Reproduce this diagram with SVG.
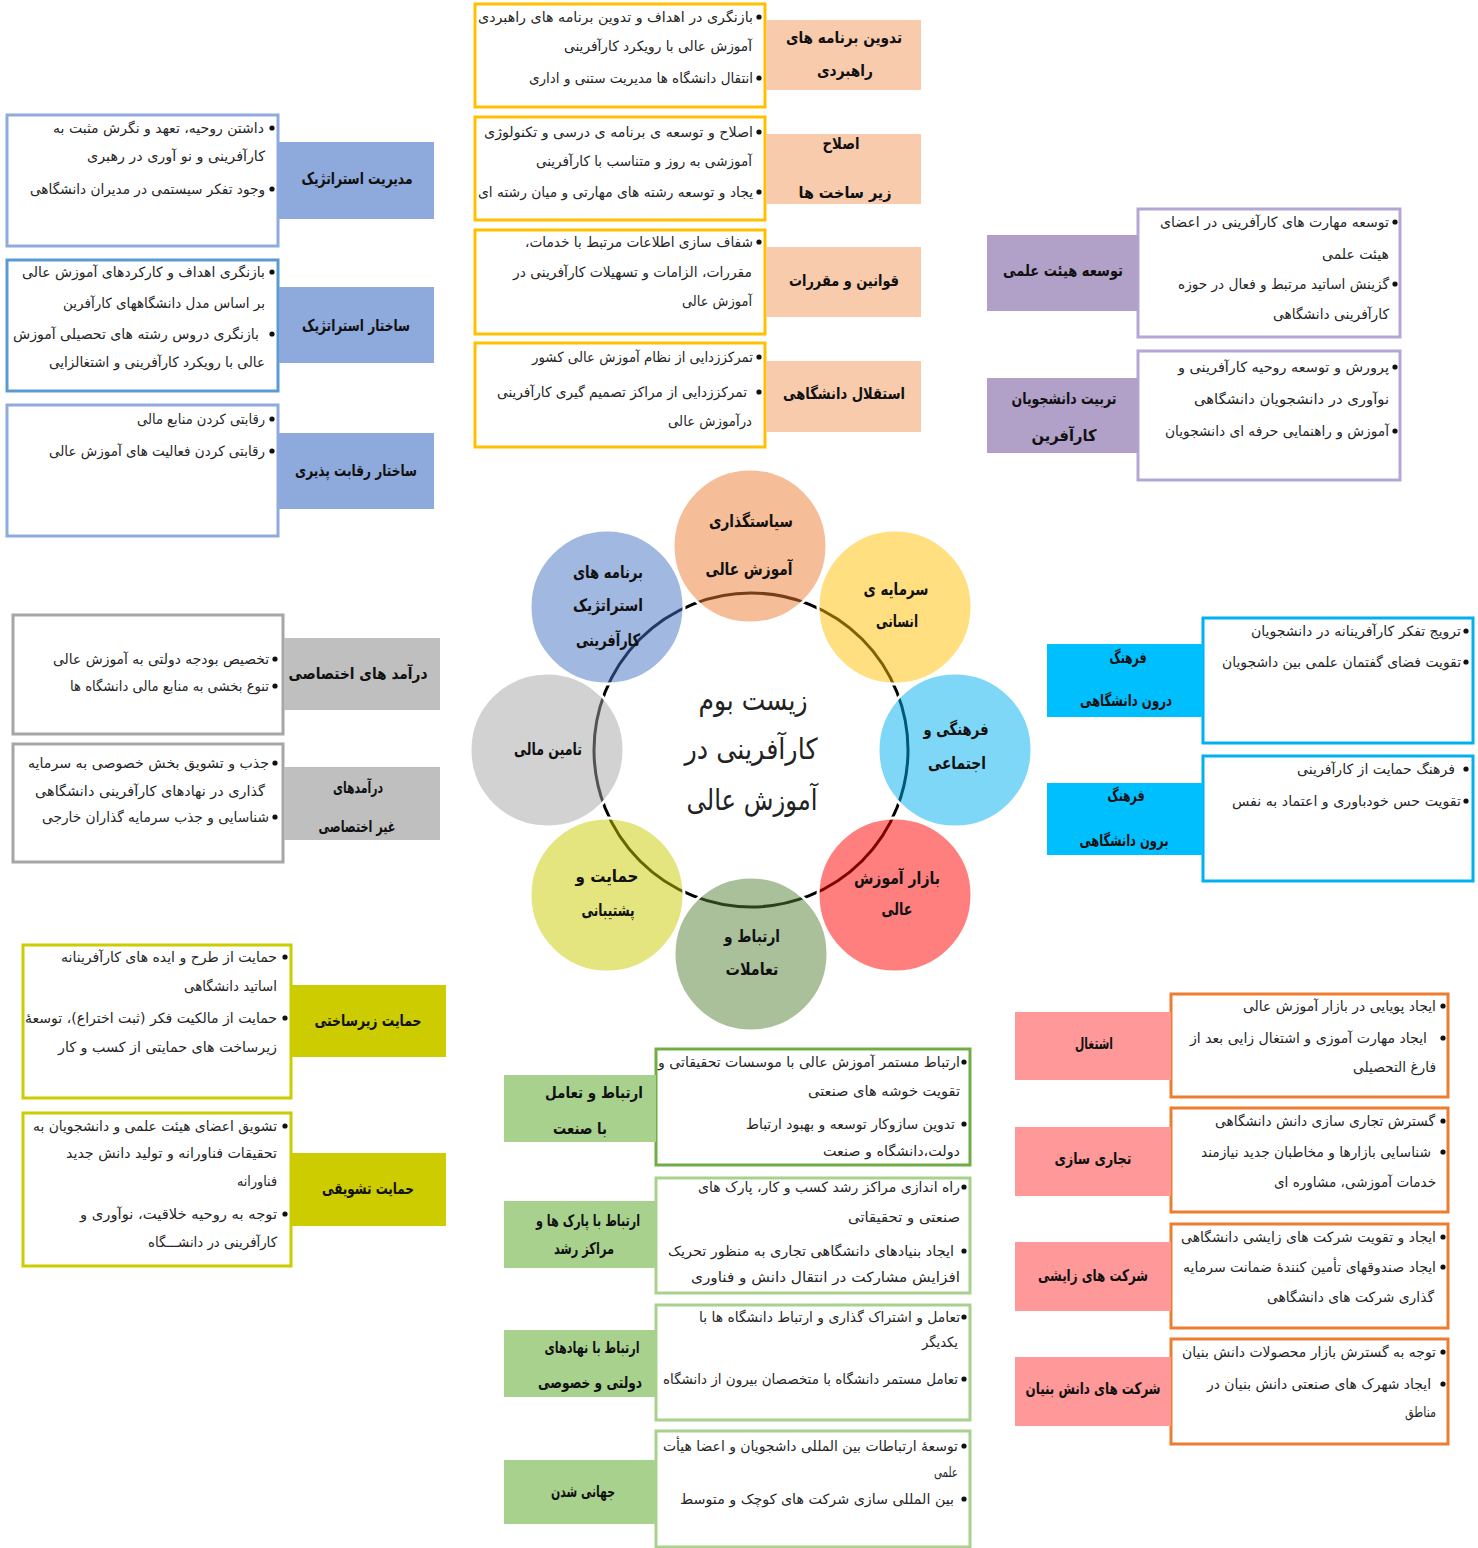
<svg xmlns="http://www.w3.org/2000/svg" width="1478" height="1548" viewBox="0 0 1478 1548">
<style>
.t{font-family:"DejaVu Sans",sans-serif;font-size:14px;fill:#262626;direction:rtl;text-anchor:middle}
.l{font-family:"DejaVu Sans",sans-serif;font-size:16px;font-weight:bold;fill:#111;direction:rtl;text-anchor:middle}
.c{font-family:"DejaVu Sans",sans-serif;font-size:17px;font-weight:bold;fill:#111;direction:rtl;text-anchor:middle}
.m{font-family:"DejaVu Sans",sans-serif;font-size:29px;fill:#222;direction:rtl;text-anchor:middle}
.bu{fill:#111}
.bx{fill:#fff;stroke-width:3}
.yb{stroke:#FFC000}.pl{fill:#F8CBAD}
.bb{stroke:#8FAADC}.bb2{stroke:#5B9BD5}.bl{fill:#8EA9DB}
.ub{stroke:#B4A7D6}.ul{fill:#B1A0C7}
.gb{stroke:#A6A6A6}.gl{fill:#BFBFBF}
.cb{stroke:#00B0F0}.cl{fill:#00BFFF}
.ob{stroke:#CCCC00}.ol{fill:#CCCC00}
.eb{stroke:#70AD47}.eb2{stroke:#A9D18E}.el{fill:#A9D18E}
.rb{stroke:#ED7D31}.rl{fill:#FF9999}
.ci{fill-opacity:0.5;stroke:#fff;stroke-width:3}
</style>
<rect width="1478" height="1548" fill="#fff"/>

<g id="connectors">
<circle cx="751" cy="750" r="157" fill="none" stroke="#000" stroke-width="3"/>
</g>

<g id="circle-policy"><circle class="ci" cx="750" cy="546" r="77" fill="#ED7D31"/>
<text class="c" x="751" y="527" textLength="84" lengthAdjust="spacingAndGlyphs">سیاستگذاری</text>
<text class="c" x="749" y="575" textLength="87" lengthAdjust="spacingAndGlyphs">آموزش عالی</text></g>
<g id="circle-human"><circle class="ci" cx="895" cy="607" r="77" fill="#FFC000"/>
<text class="c" x="896" y="595" textLength="65" lengthAdjust="spacingAndGlyphs">سرمایه ی</text>
<text class="c" x="897" y="627" textLength="42" lengthAdjust="spacingAndGlyphs">انسانی</text></g>
<g id="circle-culture"><circle class="ci" cx="955" cy="750" r="77" fill="#00B0F0"/>
<text class="c" x="956" y="735" textLength="65" lengthAdjust="spacingAndGlyphs">فرهنگی و</text>
<text class="c" x="957" y="769" textLength="58" lengthAdjust="spacingAndGlyphs">اجتماعی</text></g>
<g id="circle-market"><circle class="ci" cx="895" cy="895" r="77" fill="#FF0000"/>
<text class="c" x="897" y="884" textLength="86" lengthAdjust="spacingAndGlyphs">بازار آموزش</text>
<text class="c" x="897" y="915" textLength="31" lengthAdjust="spacingAndGlyphs">عالی</text></g>
<g id="circle-relations"><circle class="ci" cx="751" cy="954" r="77" fill="#548235"/>
<text class="c" x="752" y="942" textLength="56" lengthAdjust="spacingAndGlyphs">ارتباط و</text>
<text class="c" x="752" y="975" textLength="53" lengthAdjust="spacingAndGlyphs">تعاملات</text></g>
<g id="circle-support"><circle class="ci" cx="607" cy="895" r="77" fill="#CCCC00"/>
<text class="c" x="607" y="882" textLength="63" lengthAdjust="spacingAndGlyphs">حمایت و</text>
<text class="c" x="608" y="916" textLength="53" lengthAdjust="spacingAndGlyphs">پشتیبانی</text></g>
<g id="circle-finance"><circle class="ci" cx="547" cy="750" r="77" fill="#A6A6A6"/>
<text class="c" x="548" y="755" textLength="68" lengthAdjust="spacingAndGlyphs">تامین مالی</text></g>
<g id="circle-strategy"><circle class="ci" cx="607" cy="607" r="77" fill="#4472C4"/>
<text class="c" x="608" y="578" textLength="70" lengthAdjust="spacingAndGlyphs">برنامه های</text>
<text class="c" x="608" y="611" textLength="70" lengthAdjust="spacingAndGlyphs">استراتژیک</text>
<text class="c" x="608" y="646" textLength="64" lengthAdjust="spacingAndGlyphs">کارآفرینی</text></g>

<g id="center-title">
<text class="m" x="753" y="710" textLength="109" lengthAdjust="spacingAndGlyphs">زیست بوم</text>
<text class="m" x="751" y="759" textLength="133" lengthAdjust="spacingAndGlyphs">کارآفرینی در</text>
<text class="m" x="752" y="810" textLength="131" lengthAdjust="spacingAndGlyphs">آموزش عالی</text>
</g>

<g id="node-strategic-planning">
<rect class="bx yb" x="475" y="4" width="290" height="103"/>
<rect class="pl" x="766" y="20" width="155" height="70"/>
<text class="l" x="844" y="43" textLength="116" lengthAdjust="spacingAndGlyphs">تدوین برنامه های</text>
<text class="l" x="845" y="76" textLength="56" lengthAdjust="spacingAndGlyphs">راهبردی</text>
<circle class="bu" cx="759" cy="17" r="2.6"/><circle class="bu" cx="759" cy="78" r="2.6"/>
<text class="t" x="615.5" y="22" textLength="275" lengthAdjust="spacingAndGlyphs">بازنگری در اهداف و تدوین برنامه های راهبردی</text>
<text class="t" x="658" y="51" textLength="188" lengthAdjust="spacingAndGlyphs">آموزش عالی با رویکرد کارآفرینی</text>
<text class="t" x="641" y="83" textLength="224" lengthAdjust="spacingAndGlyphs">انتقال دانشگاه ها مدیریت ستنی و اداری</text>
</g>
<g id="node-infrastructure-reform">
<rect class="bx yb" x="475" y="117" width="290" height="103"/>
<rect class="pl" x="766" y="134" width="155" height="70"/>
<text class="l" x="841" y="149" textLength="37" lengthAdjust="spacingAndGlyphs">اصلاح</text>
<text class="l" x="845" y="198" textLength="93" lengthAdjust="spacingAndGlyphs">زیر ساخت ها</text>
<circle class="bu" cx="759" cy="132" r="2.6"/><circle class="bu" cx="759" cy="192" r="2.6"/>
<text class="t" x="618.5" y="137" textLength="269" lengthAdjust="spacingAndGlyphs">اصلاح و توسعه ی برنامه ی درسی و تکنولوژی</text>
<text class="t" x="644" y="166" textLength="216" lengthAdjust="spacingAndGlyphs">آموزشی به روز و متناسب با کارآفرینی</text>
<text class="t" x="615.5" y="197" textLength="275" lengthAdjust="spacingAndGlyphs">یجاد و توسعه رشته های مهارتی و میان رشته ای</text>
</g>
<g id="node-laws">
<rect class="bx yb" x="475" y="230" width="290" height="104"/>
<rect class="pl" x="766" y="247" width="155" height="70"/>
<text class="l" x="844" y="286" textLength="110" lengthAdjust="spacingAndGlyphs">قوانین و مقررات</text>
<circle class="bu" cx="759" cy="242" r="2.6"/>
<text class="t" x="639" y="247" textLength="228" lengthAdjust="spacingAndGlyphs">شفاف سازی اطلاعات مرتبط با خدمات،</text>
<text class="t" x="632.5" y="277" textLength="239" lengthAdjust="spacingAndGlyphs">مقررات، الزامات و تسهیلات کارآفرینی در</text>
<text class="t" x="717" y="306" textLength="70" lengthAdjust="spacingAndGlyphs">آموزش عالی</text>
</g>
<g id="node-autonomy">
<rect class="bx yb" x="475" y="343" width="290" height="104"/>
<rect class="pl" x="766" y="361" width="155" height="71"/>
<text class="l" x="844" y="399" textLength="122" lengthAdjust="spacingAndGlyphs">استقلال دانشگاهی</text>
<circle class="bu" cx="759" cy="357" r="2.6"/><circle class="bu" cx="759" cy="392" r="2.6"/>
<text class="t" x="642.5" y="362" textLength="221" lengthAdjust="spacingAndGlyphs">تمرکززدایی از نظام آموزش عالی کشور</text>
<text class="t" x="622" y="397" textLength="250" lengthAdjust="spacingAndGlyphs">تمرکززدایی از مراکز تصمیم گیری کارآفرینی</text>
<text class="t" x="710" y="426" textLength="84" lengthAdjust="spacingAndGlyphs">درآموزش عالی</text>
</g>

<g id="node-strategic-management">
<rect class="bx bb" x="7" y="115" width="271" height="131"/>
<rect class="bl" x="279" y="142" width="155" height="77"/>
<text class="l" x="357" y="184" textLength="111" lengthAdjust="spacingAndGlyphs">مدیریت استراتژیک</text>
<circle class="bu" cx="272" cy="128" r="2.6"/><circle class="bu" cx="272" cy="189" r="2.6"/>
<text class="t" x="158.5" y="133" textLength="211" lengthAdjust="spacingAndGlyphs">داشتن روحیه، تعهد و نگرش مثبت به</text>
<text class="t" x="176" y="161" textLength="178" lengthAdjust="spacingAndGlyphs">کارآفرینی و نو آوری در رهبری</text>
<text class="t" x="147.5" y="194" textLength="235" lengthAdjust="spacingAndGlyphs">وجود تفکر سیستمی در مدیران دانشگاهی</text>
</g>
<g id="node-strategic-structure">
<rect class="bx bb2" x="7" y="260" width="271" height="131"/>
<rect class="bl" x="279" y="287" width="155" height="76"/>
<text class="l" x="356" y="331" textLength="108" lengthAdjust="spacingAndGlyphs">ساختار استراتژیک</text>
<circle class="bu" cx="272" cy="272" r="2.6"/><circle class="bu" cx="272" cy="334" r="2.6"/>
<text class="t" x="143.5" y="277" textLength="243" lengthAdjust="spacingAndGlyphs">بازنگری اهداف و کارکردهای آموزش عالی</text>
<text class="t" x="164" y="308" textLength="202" lengthAdjust="spacingAndGlyphs">بر اساس مدل دانشگاههای کارآفرین</text>
<text class="t" x="136" y="339" textLength="246" lengthAdjust="spacingAndGlyphs">بازنگری دروس رشته های تحصیلی آموزش</text>
<text class="t" x="157" y="367" textLength="216" lengthAdjust="spacingAndGlyphs">عالی با رویکرد کارآفرینی و اشتغالزایی</text>
</g>
<g id="node-competitive-structure">
<rect class="bx bb" x="7" y="405" width="271" height="131"/>
<rect class="bl" x="279" y="433" width="155" height="76"/>
<text class="l" x="356" y="476" textLength="122" lengthAdjust="spacingAndGlyphs">ساختار رقابت پذیری</text>
<circle class="bu" cx="272" cy="419" r="2.6"/><circle class="bu" cx="272" cy="451" r="2.6"/>
<text class="t" x="201" y="424" textLength="128" lengthAdjust="spacingAndGlyphs">رقابتی کردن منابع مالی</text>
<text class="t" x="157" y="456" textLength="216" lengthAdjust="spacingAndGlyphs">رقابتی کردن فعالیت های آموزش عالی</text>
</g>

<g id="node-faculty">
<rect class="bx ub" x="1138" y="209" width="262" height="128"/>
<rect class="ul" x="987" y="235" width="151" height="76"/>
<text class="l" x="1063" y="276" textLength="120" lengthAdjust="spacingAndGlyphs">توسعه هیئت علمی</text>
<circle class="bu" cx="1395" cy="222" r="2.6"/><circle class="bu" cx="1395" cy="284" r="2.6"/>
<text class="t" x="1274.5" y="227" textLength="229" lengthAdjust="spacingAndGlyphs">توسعه مهارت های کارآفرینی در اعضای</text>
<text class="t" x="1355.5" y="259" textLength="67" lengthAdjust="spacingAndGlyphs">هیئت علمی</text>
<text class="t" x="1283.5" y="289" textLength="211" lengthAdjust="spacingAndGlyphs">گزینش اساتید مرتبط و فعال در حوزه</text>
<text class="t" x="1331" y="319" textLength="116" lengthAdjust="spacingAndGlyphs">کارآفرینی دانشگاهی</text>
</g>
<g id="node-students">
<rect class="bx ub" x="1138" y="351" width="262" height="129"/>
<rect class="ul" x="987" y="378" width="151" height="75"/>
<text class="l" x="1064" y="404" textLength="105" lengthAdjust="spacingAndGlyphs">تربیت دانشجویان</text>
<text class="l" x="1064" y="441" textLength="65" lengthAdjust="spacingAndGlyphs">کارآفرین</text>
<circle class="bu" cx="1395" cy="367" r="2.6"/><circle class="bu" cx="1395" cy="431" r="2.6"/>
<text class="t" x="1283.5" y="372" textLength="211" lengthAdjust="spacingAndGlyphs">پرورش و توسعه روحیه کارآفرینی و</text>
<text class="t" x="1291.5" y="404" textLength="195" lengthAdjust="spacingAndGlyphs">نوآوری در دانشجویان دانشگاهی</text>
<text class="t" x="1277" y="436" textLength="224" lengthAdjust="spacingAndGlyphs">آموزش و راهنمایی حرفه ای دانشجویان</text>
</g>

<g id="node-dedicated-income">
<rect class="bx gb" x="13" y="615" width="270" height="119"/>
<rect class="gl" x="284" y="638" width="156" height="72"/>
<text class="l" x="358" y="679" textLength="139" lengthAdjust="spacingAndGlyphs">درآمد های اختصاصی</text>
<circle class="bu" cx="275" cy="659" r="2.6"/><circle class="bu" cx="275" cy="686" r="2.6"/>
<text class="t" x="161" y="664" textLength="216" lengthAdjust="spacingAndGlyphs">تخصیص بودجه دولتی به آموزش عالی</text>
<text class="t" x="169.5" y="691" textLength="199" lengthAdjust="spacingAndGlyphs">تنوع بخشی به منابع مالی دانشگاه ها</text>
</g>
<g id="node-nondedicated-income">
<rect class="bx gb" x="13" y="744" width="270" height="118"/>
<rect class="gl" x="284" y="767" width="156" height="73"/>
<text class="l" x="358" y="793" textLength="50" lengthAdjust="spacingAndGlyphs">درآمدهای</text>
<text class="l" x="357" y="832" textLength="77" lengthAdjust="spacingAndGlyphs">غیر اختصاصی</text>
<circle class="bu" cx="275" cy="763" r="2.6"/><circle class="bu" cx="275" cy="817" r="2.6"/>
<text class="t" x="148.5" y="768" textLength="241" lengthAdjust="spacingAndGlyphs">جذب و تشویق بخش خصوصی به سرمایه</text>
<text class="t" x="150" y="796" textLength="230" lengthAdjust="spacingAndGlyphs">گذاری در نهادهای کارآفرینی دانشگاهی</text>
<text class="t" x="155.5" y="822" textLength="227" lengthAdjust="spacingAndGlyphs">شناسایی و جذب سرمایه گذاران خارجی</text>
</g>

<g id="node-inner-culture">
<rect class="bx cb" x="1203" y="618" width="270" height="125"/>
<rect class="cl" x="1047" y="644" width="156" height="73"/>
<text class="l" x="1128" y="663" textLength="37" lengthAdjust="spacingAndGlyphs">فرهنگ</text>
<text class="l" x="1126" y="706" textLength="92" lengthAdjust="spacingAndGlyphs">درون دانشگاهی</text>
<circle class="bu" cx="1466" cy="631" r="2.6"/><circle class="bu" cx="1466" cy="662" r="2.6"/>
<text class="t" x="1356" y="636" textLength="210" lengthAdjust="spacingAndGlyphs">ترویج تفکر کارآفرینانه در دانشجویان</text>
<text class="t" x="1341.5" y="667" textLength="239" lengthAdjust="spacingAndGlyphs">تقویت فضای گفتمان علمی بین داشجویان</text>
</g>
<g id="node-outer-culture">
<rect class="bx cb" x="1203" y="756" width="270" height="125"/>
<rect class="cl" x="1047" y="783" width="156" height="72"/>
<text class="l" x="1126" y="801" textLength="37" lengthAdjust="spacingAndGlyphs">فرهنگ</text>
<text class="l" x="1124" y="846" textLength="89" lengthAdjust="spacingAndGlyphs">برون دانشگاهی</text>
<circle class="bu" cx="1466" cy="769" r="2.6"/><circle class="bu" cx="1466" cy="801" r="2.6"/>
<text class="t" x="1376" y="774" textLength="158" lengthAdjust="spacingAndGlyphs">فرهنگ حمایت از کارآفرینی</text>
<text class="t" x="1346.5" y="806" textLength="229" lengthAdjust="spacingAndGlyphs">تقویت حس خودباوری و اعتماد به نفس</text>
</g>

<g id="node-infrastructure-support">
<rect class="bx ob" x="23" y="945" width="268" height="153"/>
<rect class="ol" x="291" y="985" width="155" height="72"/>
<text class="l" x="368" y="1026" textLength="107" lengthAdjust="spacingAndGlyphs">حمایت زیرساختی</text>
<circle class="bu" cx="285" cy="957" r="2.6"/><circle class="bu" cx="285" cy="1018" r="2.6"/>
<text class="t" x="169" y="962" textLength="216" lengthAdjust="spacingAndGlyphs">حمایت از طرح و ایده های کارآفرینانه</text>
<text class="t" x="230.5" y="991" textLength="93" lengthAdjust="spacingAndGlyphs">اساتید دانشگاهی</text>
<text class="t" x="151" y="1023" textLength="252" lengthAdjust="spacingAndGlyphs">حمایت از مالکیت فکر (ثبت اختراع)، توسعهٔ</text>
<text class="t" x="167.5" y="1052" textLength="219" lengthAdjust="spacingAndGlyphs">زیرساخت های حمایتی از کسب و کار</text>
</g>
<g id="node-incentive-support">
<rect class="bx ob" x="23" y="1113" width="268" height="153"/>
<rect class="ol" x="291" y="1153" width="155" height="73"/>
<text class="l" x="368" y="1194" textLength="92" lengthAdjust="spacingAndGlyphs">حمایت تشویقی</text>
<circle class="bu" cx="285" cy="1126" r="2.6"/><circle class="bu" cx="285" cy="1214" r="2.6"/>
<text class="t" x="155" y="1131" textLength="244" lengthAdjust="spacingAndGlyphs">تشویق اعضای هیئت علمی و دانشجویان به</text>
<text class="t" x="171.5" y="1158" textLength="211" lengthAdjust="spacingAndGlyphs">تحقیقات فناورانه و تولید دانش جدید</text>
<text class="t" x="257" y="1186" textLength="40" lengthAdjust="spacingAndGlyphs">فناورانه</text>
<text class="t" x="178.5" y="1219" textLength="197" lengthAdjust="spacingAndGlyphs">توجه به روحیه خلاقیت، نوآوری و</text>
<text class="t" x="212.5" y="1247" textLength="129" lengthAdjust="spacingAndGlyphs">کارآفرینی در دانشـــگاه</text>
</g>

<g id="node-industry">
<rect class="bx eb" x="656" y="1049" width="314" height="116"/>
<rect class="el" x="504" y="1075" width="152" height="67"/>
<text class="l" x="594" y="1098" textLength="98" lengthAdjust="spacingAndGlyphs">ارتباط و تعامل</text>
<text class="l" x="580" y="1134" textLength="54" lengthAdjust="spacingAndGlyphs">با صنعت</text>
<circle class="bu" cx="964" cy="1062" r="2.6"/><circle class="bu" cx="964" cy="1124" r="2.6"/>
<text class="t" x="809" y="1067" textLength="302" lengthAdjust="spacingAndGlyphs">ارتباط مستمر آموزش عالی با موسسات تحقیقاتی و</text>
<text class="t" x="884" y="1096" textLength="152" lengthAdjust="spacingAndGlyphs">تقویت خوشه های صنعتی</text>
<text class="t" x="850.5" y="1129" textLength="209" lengthAdjust="spacingAndGlyphs">تدوین سازوکار توسعه و بهبود ارتباط</text>
<text class="t" x="891.5" y="1156" textLength="137" lengthAdjust="spacingAndGlyphs">دولت،دانشگاه و صنعت</text>
</g>
<g id="node-parks">
<rect class="bx eb2" x="656" y="1178" width="314" height="115"/>
<rect class="el" x="504" y="1201" width="152" height="67"/>
<text class="l" x="588" y="1226" textLength="104" lengthAdjust="spacingAndGlyphs">ارتباط با پارک ها و</text>
<text class="l" x="584" y="1254" textLength="60" lengthAdjust="spacingAndGlyphs">مراکز رشد</text>
<circle class="bu" cx="964" cy="1187" r="2.6"/><circle class="bu" cx="964" cy="1251" r="2.6"/>
<text class="t" x="829" y="1192" textLength="262" lengthAdjust="spacingAndGlyphs">راه اندازی مراکز رشد کسب و کار، پارک های</text>
<text class="t" x="904" y="1222" textLength="112" lengthAdjust="spacingAndGlyphs">صنعتی و تحقیقاتی</text>
<text class="t" x="811" y="1256" textLength="286" lengthAdjust="spacingAndGlyphs">ایجاد بنیادهای دانشگاهی تجاری به منظور تحریک</text>
<text class="t" x="825.5" y="1282" textLength="269" lengthAdjust="spacingAndGlyphs">افزایش مشارکت در انتقال دانش و فناوری</text>
</g>
<g id="node-institutions">
<rect class="bx eb2" x="656" y="1305" width="314" height="115"/>
<rect class="el" x="504" y="1330" width="152" height="67"/>
<text class="l" x="592" y="1353" textLength="95" lengthAdjust="spacingAndGlyphs">ارتباط با نهادهای</text>
<text class="l" x="590" y="1388" textLength="104" lengthAdjust="spacingAndGlyphs">دولتی و خصوصی</text>
<circle class="bu" cx="964" cy="1317" r="2.6"/><circle class="bu" cx="964" cy="1379" r="2.6"/>
<text class="t" x="829.5" y="1322" textLength="261" lengthAdjust="spacingAndGlyphs">تعامل و اشتراک گذاری و ارتباط دانشگاه ها با</text>
<text class="t" x="940" y="1347" textLength="36" lengthAdjust="spacingAndGlyphs">یکدیگر</text>
<text class="t" x="810.5" y="1384" textLength="295" lengthAdjust="spacingAndGlyphs">تعامل مستمر دانشگاه با متخصصان بیرون از دانشگاه</text>
</g>
<g id="node-globalization">
<rect class="bx eb2" x="656" y="1431" width="314" height="116"/>
<rect class="el" x="504" y="1460" width="152" height="64"/>
<text class="l" x="583" y="1497" textLength="64" lengthAdjust="spacingAndGlyphs">جهانی شدن</text>
<circle class="bu" cx="964" cy="1446" r="2.6"/><circle class="bu" cx="964" cy="1499" r="2.6"/>
<text class="t" x="810.5" y="1451" textLength="295" lengthAdjust="spacingAndGlyphs">توسعهٔ ارتباطات بین المللی داشجویان و اعضا هیأت</text>
<text class="t" x="946" y="1477" textLength="24" lengthAdjust="spacingAndGlyphs">علمی</text>
<text class="t" x="817" y="1504" textLength="274" lengthAdjust="spacingAndGlyphs">بین المللی سازی شرکت های کوچک و متوسط</text>
</g>

<g id="node-employment">
<rect class="bx rb" x="1171" y="994" width="277" height="103"/>
<rect class="rl" x="1015" y="1012" width="156" height="68"/>
<text class="l" x="1094" y="1049" textLength="38" lengthAdjust="spacingAndGlyphs">اشتغال</text>
<circle class="bu" cx="1443" cy="1006" r="2.6"/><circle class="bu" cx="1443" cy="1038" r="2.6"/>
<text class="t" x="1339.5" y="1011" textLength="193" lengthAdjust="spacingAndGlyphs">ایجاد پویایی در بازار آموزش عالی</text>
<text class="t" x="1308.5" y="1043" textLength="237" lengthAdjust="spacingAndGlyphs">ایجاد مهارت آموزی و اشتغال زایی بعد از</text>
<text class="t" x="1394.5" y="1072" textLength="83" lengthAdjust="spacingAndGlyphs">فارغ التحصیلی</text>
</g>
<g id="node-commercialization">
<rect class="bx rb" x="1171" y="1108" width="277" height="104"/>
<rect class="rl" x="1015" y="1127" width="156" height="69"/>
<text class="l" x="1093" y="1164" textLength="77" lengthAdjust="spacingAndGlyphs">تجاری سازی</text>
<circle class="bu" cx="1443" cy="1121" r="2.6"/><circle class="bu" cx="1443" cy="1152" r="2.6"/>
<text class="t" x="1325" y="1126" textLength="220" lengthAdjust="spacingAndGlyphs">گسترش تجاری سازی دانش دانشگاهی</text>
<text class="t" x="1316" y="1157" textLength="230" lengthAdjust="spacingAndGlyphs">شناسایی بازارها و مخاطبان جدید نیازمند</text>
<text class="t" x="1355" y="1187" textLength="162" lengthAdjust="spacingAndGlyphs">خدمات آموزشی، مشاوره ای</text>
</g>
<g id="node-spinoffs">
<rect class="bx rb" x="1171" y="1224" width="277" height="104"/>
<rect class="rl" x="1015" y="1242" width="156" height="69"/>
<text class="l" x="1093" y="1281" textLength="110" lengthAdjust="spacingAndGlyphs">شرکت های زایشی</text>
<circle class="bu" cx="1443" cy="1237" r="2.6"/><circle class="bu" cx="1443" cy="1267" r="2.6"/>
<text class="t" x="1308.5" y="1242" textLength="255" lengthAdjust="spacingAndGlyphs">ایجاد و تقویت شرکت های زایشی دانشگاهی</text>
<text class="t" x="1309.5" y="1272" textLength="253" lengthAdjust="spacingAndGlyphs">ایجاد صندوقهای تأمین کنندهٔ ضمانت سرمایه</text>
<text class="t" x="1350.5" y="1302" textLength="167" lengthAdjust="spacingAndGlyphs">گذاری شرکت های دانشگاهی</text>
</g>
<g id="node-knowledge-based">
<rect class="bx rb" x="1171" y="1339" width="277" height="105"/>
<rect class="rl" x="1015" y="1357" width="156" height="69"/>
<text class="l" x="1093" y="1394" textLength="135" lengthAdjust="spacingAndGlyphs">شرکت های دانش بنیان</text>
<circle class="bu" cx="1443" cy="1352" r="2.6"/><circle class="bu" cx="1443" cy="1384" r="2.6"/>
<text class="t" x="1309" y="1357" textLength="254" lengthAdjust="spacingAndGlyphs">توجه به گسترش بازار محصولات دانش بنیان</text>
<text class="t" x="1319" y="1389" textLength="224" lengthAdjust="spacingAndGlyphs">ایجاد شهرک های صنعتی دانش بنیان در</text>
<text class="t" x="1420.5" y="1417" textLength="31" lengthAdjust="spacingAndGlyphs">مناطق</text>
</g>
</svg>
